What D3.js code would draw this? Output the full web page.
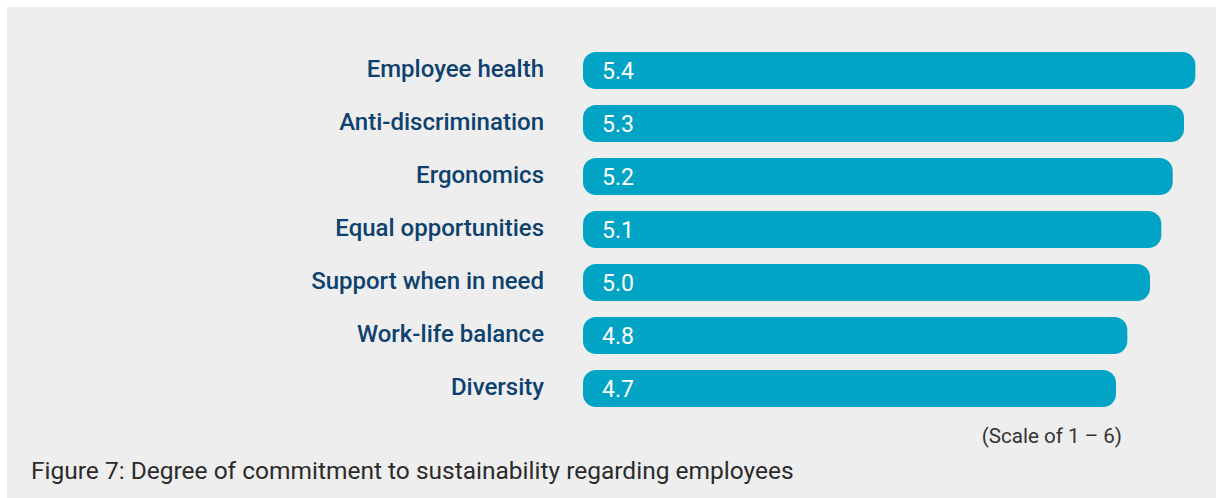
<!DOCTYPE html>
<html>
<head>
<meta charset="utf-8">
<script src="https://cdn.jsdelivr.net/npm/d3@7"></script>
<style>
  html, body { margin: 0; padding: 0; background: #ffffff; }
  svg { display: block; }
</style>
</head>
<body>
<svg id="chart" width="1216" height="498"></svg>
<script>
// Commitment scores (scale 1–6)
const categories = [
  "Employee health",
  "Anti-discrimination",
  "Ergonomics",
  "Equal opportunities",
  "Support when in need",
  "Work-life balance",
  "Diversity"
];
const values = [5.4, 5.3, 5.2, 5.1, 5.0, 4.8, 4.7];
const valueLabels = ["5.4", "5.3", "5.2", "5.1", "5.0", "4.8", "4.7"];
const scaleNote = "(Scale of 1 \u2013 6)";
const caption = "Figure 7: Degree of commitment to sustainability regarding employees";

const W = 1216, H = 498;
const svg = d3.select("#chart");

// Panel background
svg.append("rect")
  .attr("x", 7).attr("y", 7)
  .attr("width", W - 7).attr("height", H - 7)
  .attr("fill", "#eeeeee");

const x = d3.scaleLinear().domain([0, 6]).range([583, 583 + 6 * 113.4]);
const y = d3.scaleBand()
  .domain(categories)
  .range([44, 415])
  .paddingInner(0.3)
  .paddingOuter(0.15);

const data = categories.map((c, i) => ({ c, v: values[i], t: valueLabels[i] }));

const g = svg.append("g");

g.selectAll("rect.bar")
  .data(data)
  .join("rect")
  .attr("class", "bar")
  .attr("x", x(0))
  .attr("y", d => y(d.c))
  .attr("width", d => x(d.v) - x(0))
  .attr("height", y.bandwidth())
  .attr("rx", 13).attr("ry", 13)
  .attr("fill", "#01a4c5");

// Category labels on the left
g.selectAll("text.cat")
  .data(data)
  .join("text")
  .attr("class", "cat")
  .attr("x", 544)
  .attr("y", d => y(d.c) + y.bandwidth() / 2)
  .attr("dy", "0.27em")
  .attr("text-anchor", "end")
  .attr("font-family", "Roboto, sans-serif")
  .attr("font-weight", 500)
  .attr("font-size", 24)
  .attr("fill", "#0e426e")
  .text(d => d.c);

// Value labels inside the bars
g.selectAll("text.val")
  .data(data)
  .join("text")
  .attr("class", "val")
  .attr("x", x(0) + 19)
  .attr("y", d => y(d.c) + y.bandwidth() / 2)
  .attr("dy", "0.36em")
  .attr("font-family", "Roboto, sans-serif")
  .attr("font-size", 23)
  .attr("fill", "#ffffff")
  .text(d => d.t);

svg.append("text")
  .attr("x", 1122).attr("y", 443)
  .attr("text-anchor", "end")
  .attr("font-family", "Roboto, sans-serif")
  .attr("font-size", 20.6)
  .attr("fill", "#333333")
  .text(scaleNote);

svg.append("text")
  .attr("x", 31).attr("y", 479)
  .attr("font-family", "Roboto, sans-serif")
  .attr("font-size", 24.5)
  .attr("fill", "#2b2b2b")
  .text(caption);
</script>
</body>
</html>
